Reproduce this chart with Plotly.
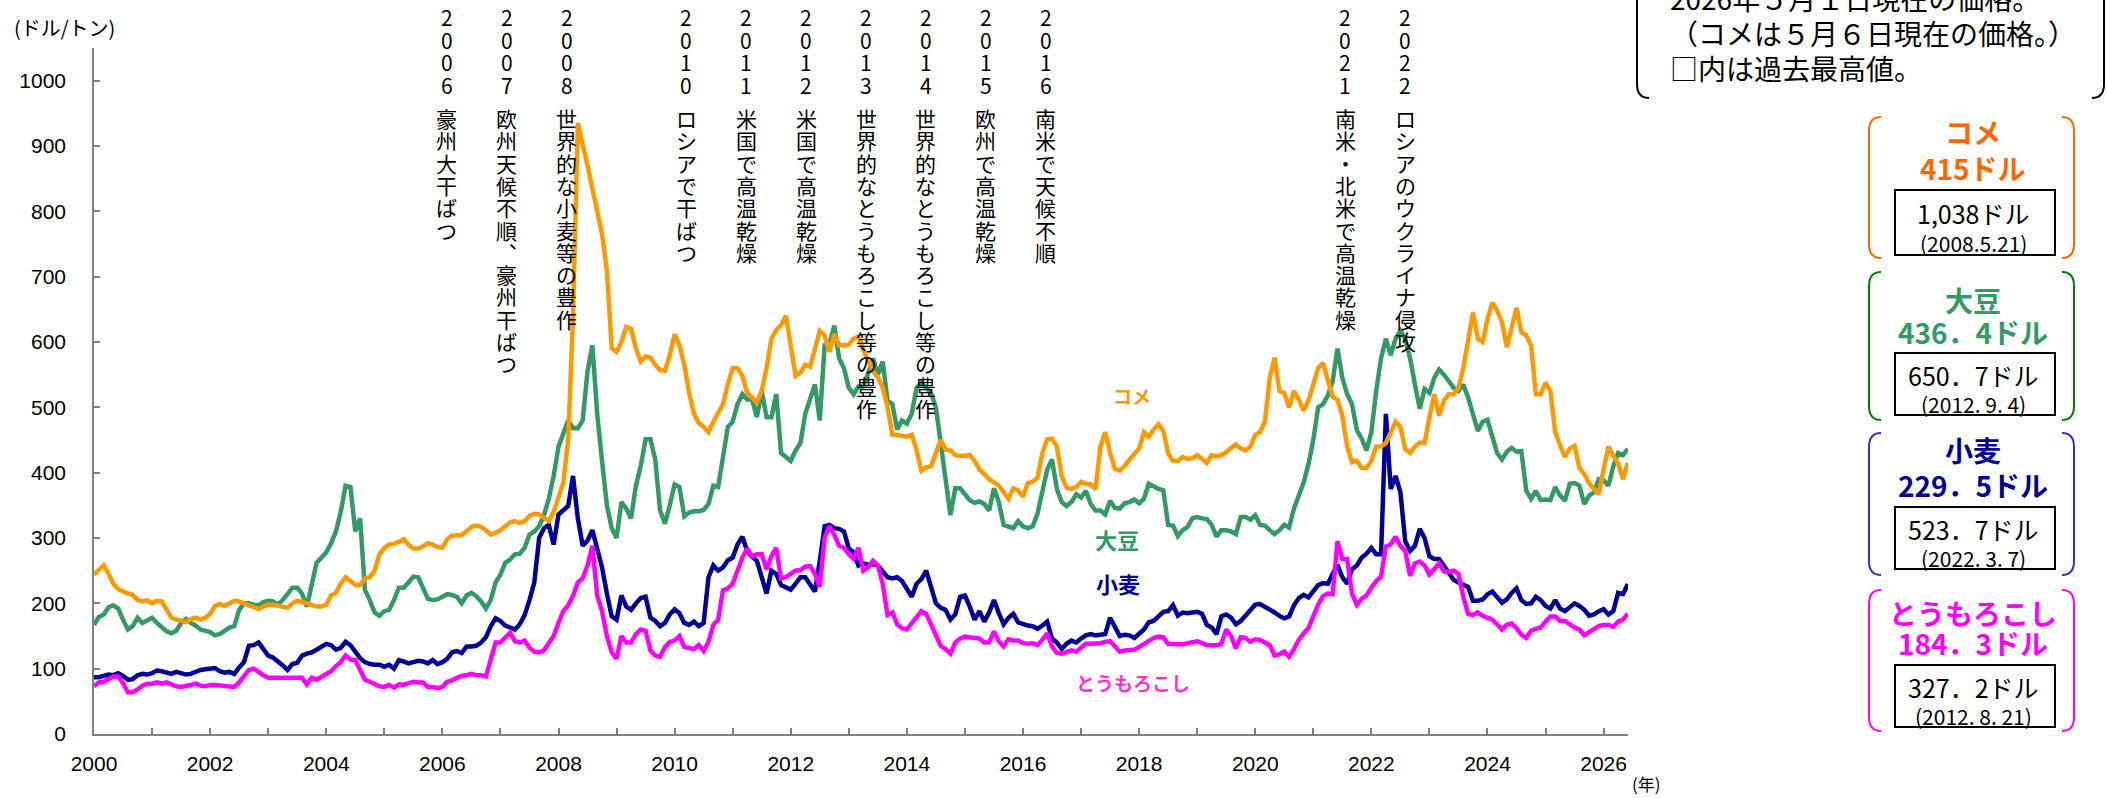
import plotly.graph_objects as go

# ---------------- data (monthly, Jan 2000 -> 2026), USD per tonne ----------------
rice = (
    [244, 252, 258, 245, 230, 222, 218, 215, 213, 205, 203, 205] +  # 2000
    [200, 204, 203, 190, 178, 175, 174, 171, 176, 178, 175, 178] +  # 2001
    [184, 196, 199, 196, 200, 204, 203, 200, 196, 193, 191, 195] +  # 2002
    [198, 198, 196, 194, 193, 200, 204, 202, 200, 198, 195, 195] +  # 2003
    [198, 212, 216, 230, 240, 234, 228, 228, 238, 240, 250, 275] +  # 2004
    [285, 290, 291, 294, 298, 290, 284, 284, 287, 292, 290, 286] +  # 2005
    [285, 298, 304, 304, 305, 310, 317, 319, 317, 312, 305, 308] +  # 2006
    [312, 318, 324, 326, 323, 326, 334, 337, 336, 331, 326, 340] +  # 2007
    [365, 385, 451, 640, 935, 905, 870, 835, 800, 765, 710, 590] +  # 2008
    [585, 600, 623, 620, 590, 570, 578, 576, 565, 557, 556, 580] +  # 2009
    [612, 595, 565, 522, 490, 476, 470, 462, 478, 490, 505, 535] +  # 2010
    [560, 560, 548, 522, 515, 508, 525, 560, 605, 618, 626, 640] +  # 2011
    [595, 548, 553, 565, 562, 590, 617, 610, 585, 612, 595, 595] +  # 2012
    [596, 605, 608, 588, 570, 555, 546, 530, 500, 458, 458, 456] +  # 2013
    [455, 458, 435, 403, 408, 410, 430, 450, 435, 434, 427, 425] +  # 2014
    [426, 427, 418, 405, 398, 390, 385, 380, 370, 360, 376, 373] +  # 2015
    [363, 384, 386, 392, 430, 451, 452, 440, 395, 377, 375, 378] +  # 2016
    [386, 383, 382, 375, 440, 462, 430, 406, 403, 410, 420, 428] +  # 2017
    [437, 462, 455, 466, 474, 464, 430, 418, 418, 424, 421, 422] +  # 2018
    [427, 421, 415, 427, 425, 427, 431, 438, 443, 437, 434, 440] +  # 2019
    [458, 462, 478, 545, 576, 525, 522, 500, 525, 512, 495, 510] +  # 2020
    [535, 560, 568, 540, 516, 512, 487, 440, 416, 418, 407, 407] +  # 2021
    [418, 440, 440, 445, 460, 478, 470, 436, 430, 440, 446, 445] +  # 2022
    [485, 520, 487, 510, 520, 520, 530, 560, 603, 645, 605, 600] +  # 2023
    [635, 660, 648, 630, 592, 625, 652, 615, 610, 595, 520, 520] +  # 2024
    [538, 525, 462, 442, 424, 437, 441, 407, 398, 384, 375, 367] +  # 2025
    [405, 440, 426, 414, 390, 415]                                  # 2026
)
soy = (
    [167, 179, 183, 194, 197, 192, 175, 160, 165, 178, 170, 175] +
    [178, 170, 163, 157, 154, 158, 170, 176, 170, 166, 160, 158] +
    [156, 151, 153, 158, 163, 165, 190, 200, 200, 198, 197, 202] +
    [204, 203, 198, 205, 215, 224, 224, 215, 195, 230, 262, 270] +
    [278, 292, 310, 340, 380, 378, 310, 330, 220, 205, 186, 181] +
    [188, 190, 205, 224, 224, 232, 241, 240, 225, 207, 205, 206] +
    [210, 214, 213, 210, 200, 212, 216, 211, 203, 192, 205, 232] +
    [244, 262, 267, 275, 276, 285, 305, 310, 318, 335, 360, 395] +
    [440, 462, 480, 468, 468, 480, 555, 595, 490, 418, 350, 315] +
    [300, 355, 345, 330, 380, 410, 451, 451, 420, 342, 322, 350] +
    [382, 378, 333, 339, 341, 341, 343, 352, 380, 378, 420, 470] +
    [478, 505, 520, 512, 512, 485, 525, 485, 485, 520, 430, 425] +
    [418, 434, 445, 490, 515, 535, 480, 595, 596, 625, 575, 560] +
    [530, 520, 532, 532, 552, 575, 550, 570, 510, 505, 466, 480] +
    [475, 490, 530, 538, 530, 522, 500, 445, 380, 335, 376, 376] +
    [367, 358, 354, 356, 352, 342, 376, 355, 320, 318, 315, 326] +
    [318, 315, 318, 337, 368, 405, 420, 375, 355, 349, 355, 367] +
    [362, 372, 352, 342, 342, 336, 357, 346, 345, 353, 355, 359] +
    [353, 360, 383, 378, 375, 373, 320, 319, 303, 312, 317, 330] +
    [332, 330, 329, 320, 302, 312, 312, 310, 306, 332, 332, 328] +
    [335, 320, 319, 312, 306, 312, 320, 316, 345, 365, 385, 413] +
    [450, 500, 505, 518, 540, 590, 545, 520, 505, 465, 452, 434] +
    [462, 525, 575, 605, 580, 605, 617, 605, 575, 535, 498, 528] +
    [522, 545, 558, 550, 540, 530, 525, 535, 515, 488, 464, 478] +
    [481, 455, 430, 420, 432, 438, 432, 433, 373, 360, 372, 358] +
    [359, 358, 378, 365, 357, 383, 384, 380, 352, 365, 370, 390] +
    [388, 380, 410, 430, 427, 436.4]
)
wheat = (
    [87, 87, 89, 91, 90, 93, 89, 83, 84, 90, 92, 91] +
    [93, 97, 96, 94, 92, 95, 93, 91, 92, 95, 98, 99] +
    [100, 101, 96, 94, 95, 92, 102, 110, 135, 136, 140, 130] +
    [120, 117, 112, 105, 98, 107, 109, 120, 123, 125, 129, 134] +
    [138, 136, 129, 132, 141, 136, 126, 116, 110, 107, 106, 106] +
    [103, 106, 100, 113, 111, 108, 110, 112, 111, 108, 113, 107] +
    [110, 115, 125, 127, 124, 134, 134, 135, 140, 148, 165, 177] +
    [173, 166, 163, 160, 168, 182, 205, 232, 300, 315, 320, 290] +
    [336, 342, 349, 395, 330, 288, 296, 312, 285, 255, 215, 180] +
    [175, 212, 195, 190, 200, 208, 210, 178, 173, 165, 170, 183] +
    [191, 185, 170, 167, 172, 165, 170, 240, 258, 250, 255, 266] +
    [270, 290, 302, 280, 271, 265, 240, 215, 250, 245, 228, 225] +
    [221, 230, 240, 240, 228, 218, 265, 318, 320, 315, 314, 310] +
    [284, 278, 258, 261, 259, 260, 258, 250, 240, 238, 240, 234] +
    [223, 210, 230, 237, 250, 222, 200, 193, 190, 175, 183, 210] +
    [212, 195, 175, 188, 172, 186, 205, 185, 168, 178, 184, 171] +
    [168, 166, 165, 161, 166, 172, 146, 140, 130, 138, 143, 140] +
    [146, 151, 153, 151, 152, 153, 178, 164, 150, 152, 151, 147] +
    [153, 160, 171, 173, 180, 187, 188, 197, 181, 186, 185, 186] +
    [187, 184, 167, 163, 153, 180, 183, 178, 168, 173, 182, 190] +
    [198, 199, 195, 190, 186, 181, 177, 180, 197, 208, 213, 209] +
    [220, 228, 231, 230, 245, 259, 240, 230, 252, 258, 270, 276] +
    [285, 275, 275, 490, 375, 395, 370, 295, 280, 288, 314, 300] +
    [272, 268, 268, 257, 246, 236, 232, 229, 225, 204, 204, 206] +
    [214, 218, 209, 201, 206, 216, 223, 205, 199, 200, 210, 205] +
    [196, 192, 205, 192, 188, 193, 200, 196, 190, 181, 183, 188] +
    [191, 183, 188, 216, 214, 229.5]
)
corn = (
    [73, 79, 80, 84, 88, 88, 78, 64, 64, 68, 74, 77] +
    [77, 79, 77, 79, 76, 73, 72, 73, 75, 77, 74, 73] +
    [75, 75, 74, 73, 72, 72, 79, 89, 98, 100, 94, 90] +
    [86, 86, 87, 86, 86, 87, 87, 86, 76, 86, 83, 88] +
    [92, 96, 104, 110, 120, 114, 113, 98, 83, 80, 76, 73] +
    [72, 75, 71, 76, 75, 78, 80, 79, 79, 72, 72, 70] +
    [72, 80, 82, 86, 89, 90, 92, 90, 90, 88, 116, 140] +
    [140, 148, 155, 142, 140, 143, 132, 126, 125, 128, 140, 150] +
    [170, 188, 197, 211, 232, 238, 258, 288, 212, 188, 150, 125] +
    [115, 150, 140, 140, 153, 160, 158, 128, 120, 118, 133, 141] +
    [143, 150, 133, 132, 130, 136, 127, 141, 167, 175, 220, 223] +
    [230, 250, 270, 284, 272, 275, 275, 252, 272, 285, 238, 240] +
    [245, 250, 251, 256, 257, 245, 225, 300, 318, 305, 288, 285] +
    [275, 268, 285, 250, 255, 265, 258, 230, 182, 186, 168, 162] +
    [160, 170, 180, 188, 184, 167, 150, 135, 130, 123, 140, 146] +
    [149, 148, 146, 146, 140, 140, 157, 142, 134, 145, 143, 143] +
    [139, 138, 139, 136, 144, 154, 134, 124, 123, 126, 128, 126] +
    [132, 138, 138, 138, 139, 141, 142, 134, 126, 128, 129, 129] +
    [133, 138, 142, 147, 149, 148, 138, 138, 137, 137, 139, 141] +
    [142, 139, 136, 136, 136, 138, 160, 150, 131, 148, 147, 141] +
    [145, 144, 140, 136, 120, 122, 126, 118, 130, 144, 154, 162] +
    [180, 198, 211, 215, 214, 295, 268, 268, 215, 198, 207, 212] +
    [224, 234, 241, 287, 290, 302, 288, 280, 242, 261, 264, 258] +
    [244, 253, 261, 249, 248, 250, 245, 210, 184, 182, 186, 181] +
    [178, 175, 168, 160, 167, 169, 162, 152, 147, 158, 161, 163] +
    [172, 180, 180, 173, 173, 167, 163, 160, 151, 156, 161, 165] +
    [167, 167, 164, 172, 175, 184.3]
)

series_names = ["小麦", "とうもろこし", "大豆", "コメ"]
series_values = [wheat, corn, soy, rice]
series_colors = ["#000099", "#FF00FF", "#339966", "#FF9900"]

x_tick_vals = list(range(2000, 2027, 2))
x_tick_text = [str(v) for v in x_tick_vals]
y_tick_vals = list(range(0, 1001, 100))

events = [
    ("2006", "豪州大干ばつ"),
    ("2007", "欧州天候不順︑豪州干ばつ"),
    ("2008", "世界的な小麦等の豊作"),
    ("2010", "ロシアで干ばつ"),
    ("2011", "米国で高温乾燥"),
    ("2012", "米国で高温乾燥"),
    ("2013", "世界的なとうもろこし等の豊作"),
    ("2014", "世界的なとうもろこし等の豊作"),
    ("2015", "欧州で高温乾燥"),
    ("2016", "南米で天候不順"),
    ("2021", "南米・北米で高温乾燥"),
    ("2022", "ロシアのウクライナ侵攻"),
]

note_lines = ["2026年５月１日現在の価格。", "（コメは５月６日現在の価格。）", "□内は過去最高値。"]

legend_items = [
    # title, current value, record value, record date
    ("コメ", "415ドル", "1,038ドル", "(2008.5.21)"),
    ("大豆", "436．4ドル", "650．7ドル", "(2012. 9. 4)"),
    ("小麦", "229．5ドル", "523．7ドル", "(2022. 3. 7)"),
    ("とうもろこし", "184．3ドル", "327．2ドル", "(2012. 8. 21)"),
]

# ---------------- layout helpers (pixel -> paper) ----------------
W, H = 2107, 798
L, R, T, B = 94, 479, 48, 64
PW, PH = W - L - R, H - T - B


def px(x):
    return (x - L) / PW


def py(y):
    return (H - B - y) / PH


JP = "Noto Sans CJK JP"
LINE_SPACING = 1.3  # plotly's multi-line spacing in em


def vertical_text(chars, glyph_size, pitch):
    # one character per line; line pitch set by the base font, glyphs enlarged via span
    body = "<br>".join(f"<span style='font-size:{glyph_size}px'>{c}</span>" for c in chars)
    return body, pitch / LINE_SPACING


fig = go.Figure()
for name, vals, col in zip(series_names, series_values, series_colors):
    xs = [2000 + i / 12 for i in range(len(vals))]
    fig.add_trace(go.Scatter(x=xs, y=vals, mode="lines", name=name,
                             line=dict(color=col, width=4.5), hoverinfo="skip"))

ann = []
shapes = []

# vertical event annotations
for yr, txt in events:
    xc = 446.7 + 59.9 * (int(yr) - 2006)
    t1, s1 = vertical_text(yr, 21, 22.6)
    ann.append(dict(x=px(xc), y=py(17 + 22.6 * 1.5), text=t1, font=dict(family=JP, size=s1, color="black")))
    t2, s2 = vertical_text(txt, 21, 22.3)
    ann.append(dict(x=px(xc), y=py(118 + 22.3 * (len(txt) - 1) / 2), text=t2,
                    font=dict(family=JP, size=s2, color="black")))

# inline series labels
ann += [
    dict(x=px(1132), y=py(395), text="<b>コメ</b>", font=dict(family=JP, size=19, color="#FF9900")),
    dict(x=px(1117), y=py(539), text="<b>大豆</b>", font=dict(family=JP, size=22, color="#339966")),
    dict(x=px(1118), y=py(583), text="<b>小麦</b>", font=dict(family=JP, size=22, color="#000099")),
    dict(x=px(1133), y=py(682), text="<b>とうもろこし</b>", font=dict(family=JP, size=19, color="#FF33CC")),
]

# axis captions
ann.append(dict(x=px(12), y=py(27), text="(ドル/トン)", xanchor="left", font=dict(family=JP, size=20, color="black")))
ann.append(dict(x=px(1630), y=py(783), text="(年)", xanchor="left", font=dict(family=JP, size=17, color="black")))

# note box
for i, line in enumerate(note_lines):
    ann.append(dict(x=px(1668), y=py(-2 + 35 * i), text=line, xanchor="left",
                    font=dict(family=JP, size=28, color="black")))


def bracket(xl, xr, yt, yb, color, width=2, hook=12, r=14, top_open=False):
    out = []
    if top_open:
        lp = f"M {px(xl)} {py(yt)} L {px(xl)} {py(yb - r)} Q {px(xl)} {py(yb)} {px(xl + hook)} {py(yb)}"
        rp = f"M {px(xr)} {py(yt)} L {px(xr)} {py(yb - r)} Q {px(xr)} {py(yb)} {px(xr - hook)} {py(yb)}"
    else:
        lp = (f"M {px(xl + hook)} {py(yt)} Q {px(xl)} {py(yt)} {px(xl)} {py(yt + r)} "
              f"L {px(xl)} {py(yb - r)} Q {px(xl)} {py(yb)} {px(xl + hook)} {py(yb)}")
        rp = (f"M {px(xr - hook)} {py(yt)} Q {px(xr)} {py(yt)} {px(xr)} {py(yt + r)} "
              f"L {px(xr)} {py(yb - r)} Q {px(xr)} {py(yb)} {px(xr - hook)} {py(yb)}")
    for p in (lp, rp):
        out.append(dict(type="path", path=p, xref="paper", yref="paper",
                        line=dict(color=color, width=width)))
    return out


shapes += bracket(1637, 2104, -10, 98, "black", top_open=True)

# legend groups on the right
groups = [
    # bracket top, bottom, bracket color, text color, title y, value y, box top, box bottom
    (117, 258, "#FF6600", "#FF6600", 132, 168, 190, 255),
    (272, 420, "#008000", "#339966", 300, 332, 353, 415),
    (433, 575, "#3333CC", "#000099", 450, 485, 507, 569),
    (590, 731, "#FF00FF", "#FF00FF", 613, 643, 665, 727),
]
for (title, cur, rec, date), (gt, gb, bc, tc, ty, vy, bt, bb) in zip(legend_items, groups):
    shapes += bracket(1869, 2074, gt, gb, bc)
    shapes.append(dict(type="rect", xref="paper", yref="paper", x0=px(1895), x1=px(2055),
                       y0=py(bb), y1=py(bt), line=dict(color="black", width=2)))
    cx = 1973
    ann.append(dict(x=px(cx), y=py(ty), text=f"<b>{title}</b>", font=dict(family=JP, size=28, color=tc)))
    ann.append(dict(x=px(cx), y=py(vy), text=f"<b>{cur}</b>", font=dict(family=JP, size=28, color=tc)))
    ann.append(dict(x=px(cx), y=py(bt + (bb - bt) * 0.36), text=rec, font=dict(family=JP, size=25, color="black")))
    ann.append(dict(x=px(cx), y=py(bt + (bb - bt) * 0.82), text=date, font=dict(family=JP, size=21, color="black")))

for a in ann:
    a.setdefault("xref", "paper")
    a.setdefault("yref", "paper")
    a.setdefault("showarrow", False)
    a.setdefault("xanchor", "center")
    a.setdefault("yanchor", "middle")

axis_common = dict(showline=True, linecolor="#808080", linewidth=1.5, ticks="inside", ticklen=6,
                   tickcolor="#808080", tickwidth=1.5, showgrid=False, zeroline=False,
                   tickfont=dict(family="Liberation Sans", size=21, color="black"))

fig.update_layout(
    width=W, height=H,
    margin=dict(l=L, r=R, t=T, b=B, pad=0),
    plot_bgcolor="white", paper_bgcolor="white",
    showlegend=False,
    xaxis=dict(range=[2000, 2026.42], tickvals=x_tick_vals, ticktext=x_tick_text,
               minor=dict(dtick=1, tick0=2000, ticks="inside", ticklen=6, tickcolor="#808080", tickwidth=1.5),
               ticklabelstandoff=10, **axis_common),
    yaxis=dict(range=[0, 1050], tickvals=y_tick_vals, ticklabelstandoff=22, **axis_common),
    annotations=ann,
    shapes=shapes,
)

fig.write_html("out.html", config={"displayModeBar": False},
               post_script="document.body.style.margin='0';document.body.style.overflow='hidden';")
